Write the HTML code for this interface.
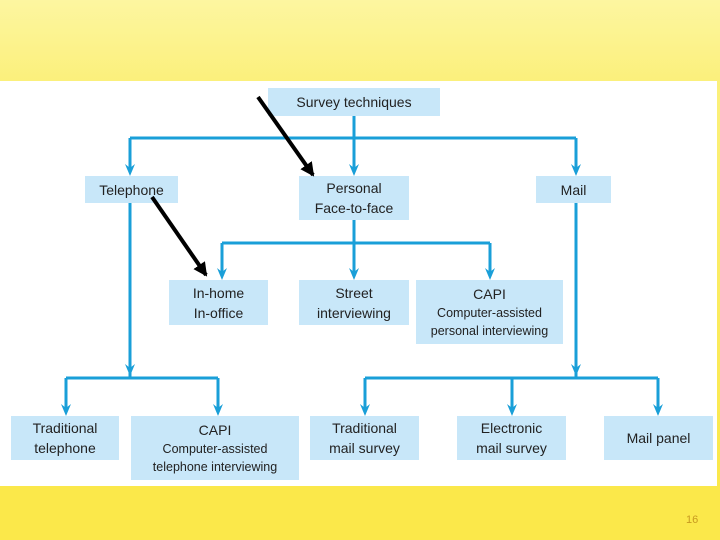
<!DOCTYPE html>
<html><head><style>
body{margin:0;width:720px;height:540px;overflow:hidden;font-family:"Liberation Sans",sans-serif;}
.bg{position:absolute;left:0;top:0;width:720px;height:540px;background:linear-gradient(#fdf6a0,#fbf07c 80px,#fbe84a 480px,#fbe84a);}
.w{position:absolute;left:0;top:81px;width:717px;height:405px;background:#fff;}
.b{position:absolute;background:#c8e7f9;color:#222;text-align:center;display:flex;flex-direction:column;justify-content:center;font-size:14px;line-height:20px;}
.s{font-size:12.5px;line-height:18px;}
</style></head><body>
<div class="bg"></div><div class="w"></div>
<div class="b" style="left:268px;top:88px;width:172px;height:28px">Survey techniques</div>
<div class="b" style="left:85px;top:176px;width:93px;height:27px">Telephone</div>
<div class="b" style="left:299px;top:176px;width:110px;height:44px">Personal<br>Face-to-face</div>
<div class="b" style="left:536px;top:176px;width:75px;height:27px">Mail</div>
<div class="b" style="left:169px;top:280px;width:99px;height:45px">In-home<br>In-office</div>
<div class="b" style="left:299px;top:280px;width:110px;height:45px">Street<br>interviewing</div>
<div class="b" style="left:416px;top:280px;width:147px;height:64px">CAPI<span class="s">Computer-assisted<br>personal interviewing</span></div>
<div class="b" style="left:11px;top:416px;width:108px;height:44px">Traditional<br>telephone</div>
<div class="b" style="left:131px;top:416px;width:168px;height:64px">CAPI<span class="s">Computer-assisted<br>telephone interviewing</span></div>
<div class="b" style="left:310px;top:416px;width:109px;height:44px">Traditional<br>mail survey</div>
<div class="b" style="left:457px;top:416px;width:109px;height:44px">Electronic<br>mail survey</div>
<div class="b" style="left:604px;top:416px;width:109px;height:44px">Mail panel</div>
<div style="position:absolute;left:686px;top:514px;font-size:11px;color:#c89a20">16</div>
<svg width="720" height="540" style="position:absolute;left:0;top:0">
<defs>
<marker id="k" markerWidth="14" markerHeight="14" refX="12" refY="7" orient="auto" markerUnits="userSpaceOnUse"><path d="M0,0 L14,7 L0,14z" fill="#000"/></marker>
<path id="h" d="M-5,-12 L0,0 L5,-12 L0,-8z" fill="#1a9fd8"/>
</defs>
<g stroke="#1a9fd8" stroke-width="3" fill="none">
<path d="M354 116V138M130 138H576M222 243H490M66 378H218M365 378H658M354 220V243"/>
<path d="M130 138V168M354 138V168M576 138V168M222 243V272M354 243V272M490 243V272M130 203V378M576 203V378M66 378V408M218 378V408M365 378V408M512 378V408M658 378V408"/>
</g>
<use href="#h" x="130" y="176"/><use href="#h" x="354" y="176"/><use href="#h" x="576" y="176"/>
<use href="#h" x="222" y="280"/><use href="#h" x="354" y="280"/><use href="#h" x="490" y="280"/>
<use href="#h" x="130" y="376"/><use href="#h" x="576" y="376"/>
<use href="#h" x="66" y="416"/><use href="#h" x="218" y="416"/>
<use href="#h" x="365" y="416"/><use href="#h" x="512" y="416"/><use href="#h" x="658" y="416"/>
<g stroke="#000" stroke-width="4" marker-end="url(#k)">
<line x1="258" y1="97" x2="313" y2="175"/><line x1="152" y1="197" x2="206" y2="275"/>
</g></svg>
</body></html>
